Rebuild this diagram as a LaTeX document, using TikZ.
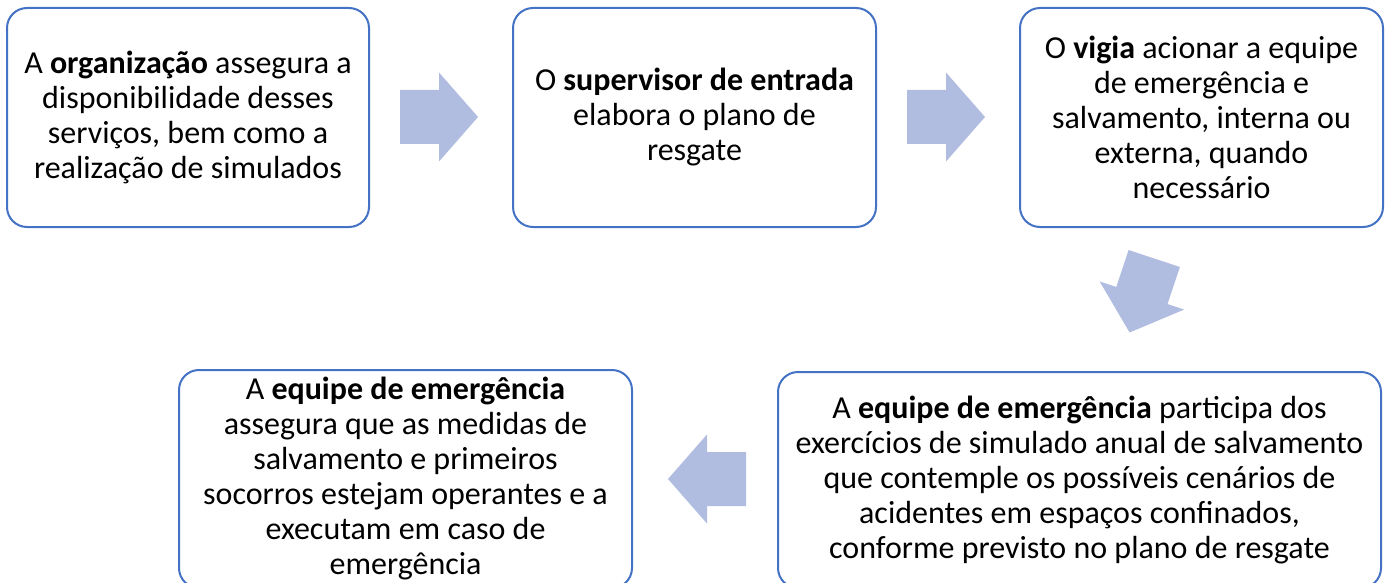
\documentclass[tikz,border=0pt]{standalone}
\usepackage{fontspec}
\setmainfont{Carlito}
\definecolor{boxblue}{RGB}{68,114,196}
\definecolor{arrowfill}{RGB}{176,188,224}
\begin{document}
\begin{tikzpicture}[x=1pt,y=-1pt,
  box/.style={draw=boxblue, line width=2pt, rounded corners=20pt, fill=white,
    align=center, inner sep=0pt, font=\fontsize{32}{35}\selectfont},
  pics/blockarrow/.style={code={
    \fill[arrowfill] (-39pt,-27pt) -- (0pt,-27pt) -- (0pt,-44.5pt) -- (39pt,0pt)
      -- (0pt,44.5pt) -- (0pt,27pt) -- (-39pt,27pt) -- cycle;}}]
\useasboundingbox (0,0) rectangle (1387,583);
\node[box, minimum width=362pt, minimum height=219pt] (b1) at (188,117.5)
  {A \textbf{organização} assegura a\\disponibilidade desses\\serviços, bem como a\\realização de simulados};
\node[box, minimum width=363pt, minimum height=219pt] (b2) at (694.5,117.5)
  {O \textbf{supervisor de entrada}\\elabora o plano de\\resgate};
\node[box, minimum width=363pt, minimum height=219pt] (b3) at (1201.5,117.5)
  {O \textbf{vigia} acionar a equipe\\de emergência e\\salvamento, interna ou\\externa, quando\\necessário};
\node[box, minimum width=603pt, minimum height=216pt] (b4) at (1079.5,480)
  {A \textbf{equipe de emergência} participa dos\\exercícios de simulado anual de salvamento\\que contemple os possíveis cenários de\\acidentes em espaços confinados,\\conforme previsto no plano de resgate};
\node[box, minimum width=453pt, minimum height=218pt] (b5) at (405.5,479)
  {A \textbf{equipe de emergência}\\assegura que as medidas de\\salvamento e primeiros\\socorros estejam operantes e a\\executam em caso de\\emergência};
\pic (a1) at (439,117) {blockarrow};
\pic (a2) at (946,117) {blockarrow};
\pic[rotate=-108.4] (a3) at (1141.9,295.5) {blockarrow};
\pic[rotate=180] (a4) at (707,479) {blockarrow};
\end{tikzpicture}
\end{document}
